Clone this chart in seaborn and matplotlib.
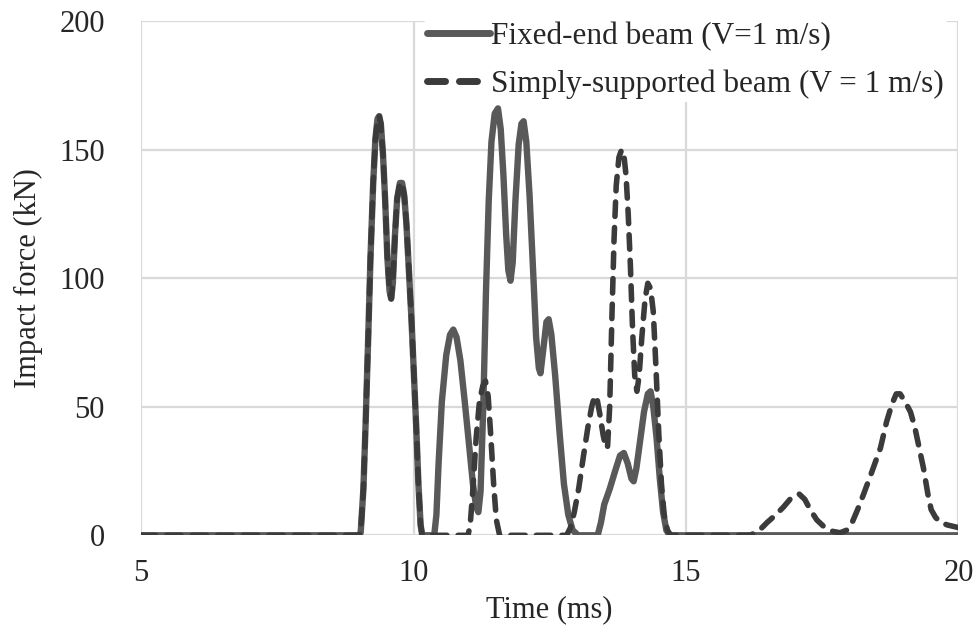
import pandas as pd
import seaborn as sns
import matplotlib.pyplot as plt

# values
fixed_time = [5.0, 9.0, 9.03, 9.08, 9.12, 9.17, 9.21, 9.26, 9.30, 9.34, 9.37, 9.40, 9.44,
              9.48, 9.52, 9.56, 9.59, 9.62, 9.66, 9.70, 9.75, 9.79, 9.83, 9.87, 9.91,
              9.96, 10.0, 10.05, 10.09, 10.13, 10.16, 10.38, 10.42, 10.46, 10.52, 10.60,
              10.67, 10.73, 10.79, 10.86, 10.94, 11.02, 11.09, 11.15, 11.19, 11.23, 11.28,
              11.33, 11.38, 11.43, 11.49, 11.55, 11.60, 11.65, 11.70, 11.74, 11.78, 11.82,
              11.87, 11.93, 11.98, 12.02, 12.07, 12.13, 12.19, 12.25, 12.30, 12.33, 12.38,
              12.44, 12.48, 12.53, 12.60, 12.68, 12.76, 12.84, 12.92, 13.02, 13.38, 13.44,
              13.50, 13.60, 13.70, 13.79, 13.86, 13.93, 14.00, 14.04, 14.09, 14.16, 14.23,
              14.30, 14.35, 14.40, 14.46, 14.52, 14.58, 14.64, 14.70, 20.0]
fixed_force = [0, 0, 1, 18, 43, 78, 108, 137, 154, 162, 163, 160, 148,
               130, 108, 95, 92, 98, 117, 131, 137, 137, 132, 121, 105,
               85, 66, 42, 20, 4, 0, 0, 8, 28, 52, 70,
               78, 80, 77, 68, 52, 35, 20, 11, 9, 17, 50,
               95, 130, 153, 164, 166, 158, 140, 117, 103, 99, 106,
               130, 152, 160, 161, 153, 132, 105, 77, 65, 63, 72,
               83, 84, 78, 62, 40, 20, 8, 2, 0, 0, 5,
               12, 18, 25, 31, 32, 28, 22, 21, 26, 37, 48,
               55, 56, 50, 38, 22, 9, 2, 0, 0]

simple_time = [5.0, 9.0, 9.03, 9.08, 9.12, 9.17, 9.21, 9.26, 9.30, 9.34, 9.37, 9.40, 9.44,
               9.48, 9.52, 9.56, 9.59, 9.62, 9.66, 9.70, 9.75, 9.79, 9.83, 9.87, 9.91,
               9.96, 10.0, 10.05, 10.09, 10.13, 10.16, 11.00, 11.04, 11.09, 11.15, 11.21,
               11.27, 11.32, 11.37, 11.42, 11.47, 11.52, 11.58, 12.81, 12.88, 12.95, 13.03,
               13.12, 13.20, 13.27, 13.32, 13.36, 13.42, 13.48, 13.53, 13.56, 13.60, 13.64,
               13.68, 13.72, 13.77, 13.82, 13.86, 13.90, 13.94, 13.98, 14.02, 14.06, 14.10,
               14.14, 14.19, 14.25, 14.30, 14.35, 14.40, 14.45, 14.50, 14.55, 14.60, 14.66,
               14.72, 16.18, 16.35, 16.49, 16.65, 16.79, 16.95, 17.08, 17.18, 17.28, 17.40,
               17.55, 17.70, 17.83, 17.95, 18.05, 18.15, 18.26, 18.40, 18.57, 18.68, 18.78,
               18.86, 18.93, 19.02, 19.12, 19.20, 19.28, 19.36, 19.44, 19.50, 19.58, 19.67,
               19.80, 20.0]
simple_force = [0, 0, 1, 18, 43, 78, 108, 137, 154, 162, 163, 160, 148,
                130, 108, 95, 92, 98, 117, 131, 137, 137, 132, 121, 105,
                85, 66, 42, 20, 4, 0, 0, 4, 18, 38, 52,
                58, 60, 54, 38, 20, 6, 0, 0, 3, 9, 18,
                31, 42, 50, 54, 54, 47, 39, 34, 34, 50, 84,
                115, 136, 147, 150, 148, 140, 125, 105, 80, 62, 56,
                62, 77, 92, 98, 96, 87, 65, 40, 20, 8, 2,
                0, 0, 2, 5, 8, 11, 15, 16, 14, 10, 6,
                3, 1.5, 1, 2, 5, 10, 16, 24, 34, 44, 51,
                55, 55, 52, 48, 42, 34, 26, 16, 10, 7, 5,
                4, 3]

fixed_label = "Fixed-end beam (V=1 m/s)"
simple_label = "Simply-supported beam (V = 1 m/s)"

fixed = pd.DataFrame({"time": fixed_time, "force": fixed_force})
simple = pd.DataFrame({"time": simple_time, "force": simple_force})

sns.set_style("white")
plt.rcParams["font.family"] = ["Liberation Serif", "DejaVu Serif"]

fig, ax = plt.subplots(figsize=(9.73, 6.35), dpi=100)
fig.subplots_adjust(left=0.145, right=0.985, top=0.967, bottom=0.157)

sns.lineplot(data=fixed, x="time", y="force", ax=ax, color="#595959",
             linewidth=4.6, label=fixed_label, solid_capstyle="round",
             solid_joinstyle="round", sort=False, estimator=None)
sns.lineplot(data=simple, x="time", y="force", ax=ax, color="#3b3b3b",
             linewidth=4.0, label=simple_label, sort=False, estimator=None)
dashed = ax.get_lines()[1]
dashed.set_dashes((2.6, 2.0))
dashed.set_dash_capstyle("round")
dashed.set_dash_joinstyle("round")

ax.set_xlim(5, 20)
ax.set_ylim(0, 200)
ax.set_xticks([5, 10, 15, 20])
ax.set_yticks([0, 50, 100, 150, 200])
ax.grid(True, color="#d9d9d9", linewidth=1.6)
ax.set_axisbelow(True)
for s in ax.spines.values():
    s.set_visible(False)
ax.tick_params(length=0, labelsize=22)
ax.tick_params(axis="x", pad=17)
ax.tick_params(axis="y", pad=26)
ax.set_xlabel("Time (ms)", fontsize=22, labelpad=5)
ax.set_ylabel("Impact force (kN)", fontsize=22, labelpad=12)

leg = ax.legend(loc="upper right", bbox_to_anchor=(0.986, 1.005), fontsize=22.5,
                frameon=True, facecolor="white", edgecolor="none", framealpha=1,
                handlelength=2.0, handletextpad=0.05, borderpad=0.1,
                labelspacing=0.6, borderaxespad=0)
for line in leg.get_lines():
    line.set_linewidth(5)

plt.savefig("out.png", dpi=100)
plt.close()
